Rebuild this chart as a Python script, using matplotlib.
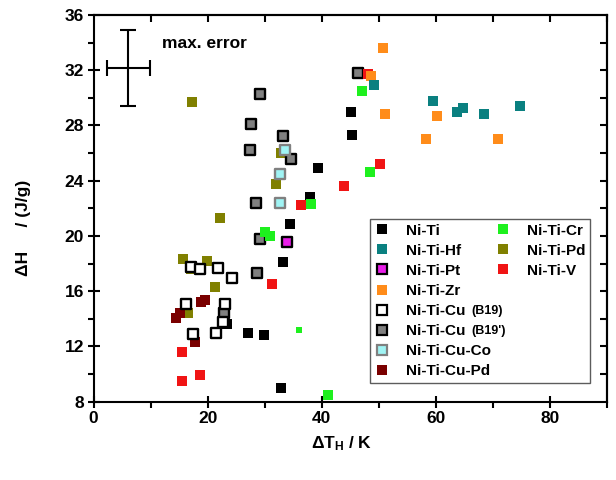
import matplotlib
matplotlib.use("Agg")
import matplotlib.pyplot as plt
from matplotlib.lines import Line2D

plt.rcParams['font.family'] = ['Liberation Sans', 'DejaVu Sans']
plt.rcParams['font.weight'] = 'bold'
plt.rcParams['mathtext.fontset'] = 'custom'
plt.rcParams['mathtext.rm'] = 'Liberation Sans:bold'
plt.rcParams['mathtext.bf'] = 'Liberation Sans:bold'
plt.rcParams['mathtext.it'] = 'Liberation Sans:bold'

# ---- data ----
niti_x = [32.8, 27.0, 29.8, 33.3, 34.4, 37.9, 39.4, 45.4, 45.1, 23.4]
niti_y = [9.0, 13.0, 12.8, 18.1, 20.9, 22.8, 24.9, 27.3, 29.0, 13.6]

hf_x = [49.2, 59.5, 63.7, 64.8, 68.4, 74.7]
hf_y = [30.9, 29.8, 29.0, 29.25, 28.8, 29.4]

pt_x = [34.0]
pt_y = [19.55]

zr_x = [50.8, 48.7, 51.1, 60.3, 58.3, 71.0]
zr_y = [33.6, 31.6, 28.8, 28.7, 27.0, 27.0]

b19_x = [17.1, 18.7, 21.8, 24.3, 16.2, 23.1, 22.7, 21.4, 17.5]
b19_y = [17.75, 17.6, 17.65, 16.95, 15.1, 15.1, 13.8, 13.0, 12.9]

b19p_x = [29.1, 27.6, 27.4, 33.3, 34.6, 28.4, 29.1, 28.6, 22.8, 46.4]
b19p_y = [30.3, 28.1, 26.2, 27.25, 25.6, 22.4, 19.8, 17.3, 14.45, 31.8]

cuco_x = [33.5, 32.7, 32.7]
cuco_y = [26.25, 24.5, 22.4]

cupd_x = [14.5, 15.2, 18.8, 19.6, 17.8]
cupd_y = [14.05, 14.45, 15.2, 15.35, 12.3]

cr_x = [47.1, 48.4, 38.2, 30.1, 31.0, 41.1]
cr_y = [30.5, 24.6, 22.3, 20.3, 20.0, 8.5]
cr_small_x = [36.1]
cr_small_y = [13.2]

pd_x = [17.3, 32.9, 32.0, 22.2, 15.7, 19.9, 21.2, 16.6, 17.0]
pd_y = [29.7, 26.0, 23.75, 21.3, 18.35, 18.2, 16.3, 14.4, 17.6]

v_x = [50.2, 43.9, 36.4, 31.3, 15.5, 15.5, 18.7, 48.1]
v_y = [25.2, 23.6, 22.25, 16.5, 11.6, 9.5, 9.95, 31.7]

err_x, err_y = [6.1], [32.15]
err_dx, err_dy = [3.7], [2.75]

x_ticks = [0, 20, 40, 60, 80]
y_ticks = [8, 12, 16, 20, 24, 28, 32, 36]

# ---- style ----
C_NITI = '#000000'
C_HF = '#0a8080'
C_PT = '#e81ee8'
C_ZR = '#ff8c1a'
C_CR = '#1ef01e'
C_PD = '#808000'
C_V = '#f01414'
C_CUPD = '#7a0000'
C_GREY = '#808080'
C_CUCO = '#a0f4f4'

fig = plt.figure(figsize=(6.16, 4.8), dpi=100)
ax = fig.add_axes([0.152, 0.163, 0.833, 0.806])

S = 55
SE = 44
LW = 1.7

ax.scatter(pd_x, pd_y, s=S, marker='s', c=C_PD, linewidths=0, zorder=3)
ax.scatter(cupd_x, cupd_y, s=S, marker='s', c=C_CUPD, linewidths=0, zorder=3)
ax.scatter(niti_x, niti_y, s=S, marker='s', c=C_NITI, linewidths=0, zorder=3)
ax.scatter(b19p_x, b19p_y, s=SE, marker='s', c=C_GREY, edgecolors='black', linewidths=LW, zorder=4)
ax.scatter(v_x, v_y, s=S, marker='s', c=C_V, linewidths=0, zorder=4)
ax.scatter(zr_x, zr_y, s=S, marker='s', c=C_ZR, linewidths=0, zorder=4)
ax.scatter(cr_x, cr_y, s=S, marker='s', c=C_CR, linewidths=0, zorder=4)
ax.scatter(cr_small_x, cr_small_y, s=20, marker='s', c=C_CR, linewidths=0, zorder=4)
ax.scatter(hf_x, hf_y, s=S, marker='s', c=C_HF, linewidths=0, zorder=4)
ax.scatter(pt_x, pt_y, s=SE, marker='s', c=C_PT, edgecolors='black', linewidths=LW, zorder=5)
ax.scatter(cuco_x, cuco_y, s=SE, marker='s', c=C_CUCO, edgecolors=C_GREY, linewidths=LW, zorder=5)
ax.scatter(b19_x, b19_y, s=SE, marker='s', c='white', edgecolors='black', linewidths=LW, zorder=6)

# max error cross
ax.errorbar(err_x, err_y, xerr=err_dx, yerr=err_dy, fmt='none', ecolor='black',
            elinewidth=1.5, capsize=5.5, capthick=1.5, zorder=5)
ax.text(12.0, 33.9, 'max. error', fontsize=12.5, fontweight='bold', va='center', ha='left')

ax.set_xlim(0, 90)
ax.set_ylim(8, 36)
ax.set_xticks(x_ticks)
ax.set_yticks(y_ticks)
ax.set_xticks([10, 30, 50, 70, 90], minor=True)
ax.set_yticks([10, 14, 18, 22, 26, 30, 34], minor=True)

for sp in ax.spines.values():
    sp.set_linewidth(1.5)

ax.tick_params(which='major', direction='inout', length=8, width=1.5, labelsize=12.5, pad=3)
ax.tick_params(which='minor', direction='out', length=4, width=1.5)
for lab in ax.get_xticklabels() + ax.get_yticklabels():
    lab.set_fontweight('bold')

secx = ax.secondary_xaxis('top')
secx.set_xticks([10, 20, 30, 40, 50, 60, 70, 80, 90])
secx.tick_params(direction='in', length=5, width=1.5, labeltop=False)
secy = ax.secondary_yaxis('right')
secy.set_yticks([10, 12, 14, 16, 18, 20, 22, 24, 26, 28, 30, 32, 34])
secy.tick_params(direction='in', length=5, width=1.5, labelright=False)
secx.spines['top'].set_linewidth(1.5)
secy.spines['right'].set_linewidth(1.5)

ax.set_xlabel('ΔT$_{\\mathbf{H}}$ / K', fontsize=12.5, fontweight='bold')
ax.set_ylabel('ΔH     / (J/g)', fontsize=12.5, fontweight='bold')
ax.xaxis.set_label_coords(0.483, -0.085)
ax.yaxis.set_label_coords(-0.122, 0.45)

# legend
def h(fc, ec=None):
    return Line2D([], [], linestyle='none', marker='s', markersize=7.5,
                  markerfacecolor=fc, markeredgecolor=ec if ec else fc,
                  markeredgewidth=1.6 if ec else 0)

blank = Line2D([], [], linestyle='none')
handles = [h(C_NITI), h(C_HF), h(C_PT, 'black'), h(C_ZR), h('white', 'black'),
           h(C_GREY, 'black'), h(C_CUCO, C_GREY), h(C_CUPD),
           h(C_CR), h(C_PD), h(C_V), blank, blank, blank, blank, blank]
labels = ['Ni-Ti', 'Ni-Ti-Hf', 'Ni-Ti-Pt', 'Ni-Ti-Zr', 'Ni-Ti-Cu', 'Ni-Ti-Cu',
          'Ni-Ti-Cu-Co', 'Ni-Ti-Cu-Pd', 'Ni-Ti-Cr', 'Ni-Ti-Pd', 'Ni-Ti-V', ' ', ' ', ' ', ' ', ' ']
leg = ax.legend(handles, labels, ncol=2, loc='upper left', bbox_to_anchor=(0.538, 0.4725),
                borderaxespad=0, fancybox=False, frameon=True, handlelength=1.0,
                handletextpad=1.1, columnspacing=0.25, labelspacing=0.4, borderpad=0.3,
                prop={'size': 11, 'weight': 'bold'})
leg.get_frame().set_edgecolor('#333333')
leg.get_frame().set_linewidth(1.0)
leg.set_zorder(10)
texts = leg.get_texts()
for t, suf in ((texts[4], '(B19)'), (texts[5], "(B19')")):
    ax.annotate(suf, xy=(1, 0.5), xycoords=t, xytext=(4, 0), textcoords='offset points',
                fontsize=9, fontweight='bold', va='center', ha='left', zorder=11)

fig.savefig('out.png', dpi=100)
